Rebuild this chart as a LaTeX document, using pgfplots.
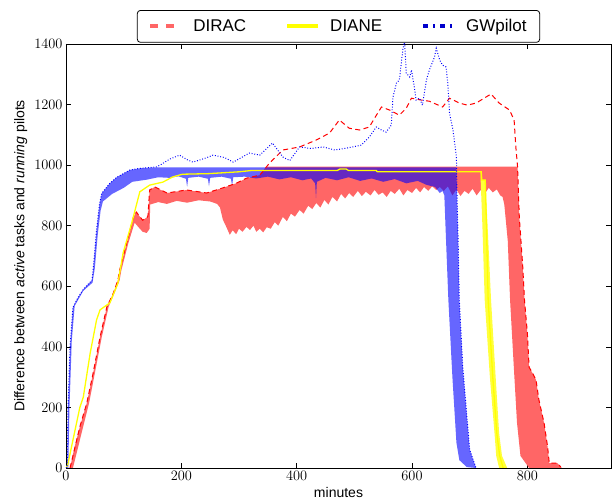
\documentclass[border=0pt]{standalone}
\usepackage{pgfplots}
\pgfplotsset{compat=1.18}
\usepgfplotslibrary{fillbetween}
\usepackage{fontspec}
\newfontfamily\arial{Liberation Sans}
\definecolor{rfill}{RGB}{255,102,102}
\definecolor{yfill}{RGB}{255,255,60}
\definecolor{yline}{RGB}{255,255,0}
\begin{document}
\begin{tikzpicture}
\begin{axis}[
 scale only axis, width=545pt, height=424pt,
 xmin=0, xmax=945, ymin=0, ymax=1400,
 xtick={0,200,400,600,800}, ytick={0,200,...,1400},
 /pgf/number format/1000 sep={},
 tick align=inside, major tick length=5pt,
 tick style={black, line width=0.5pt},
 ticklabel style={font=\fontsize{14}{16}\selectfont},
 xlabel={\arial\fontsize{14}{16}\selectfont minutes},
 ylabel={\arial\fontsize{14}{16}\selectfont Difference between \textit{active} tasks and \textit{running} pilots},
 axis line style={line width=0.8pt},
 legend columns=3,
 legend style={at={(0.5,1.08)}, anchor=north, draw=black, rounded corners=3pt, line width=0.8pt,
   fill=white,
   font=\arial\fontsize{17}{20}\selectfont,
   /tikz/every odd column/.append style={column sep=8pt},
   /tikz/every even column/.append style={column sep=37pt}, inner ysep=7pt, inner xsep=11pt},
 legend image code/.code={\draw[#1] (0pt,0pt) -- (31pt,0pt);},
]
\addlegendimage{rfill, line width=4pt, dash pattern=on 8pt off 8pt}
\addlegendentry{DIRAC}
\addlegendimage{yline, line width=4pt}
\addlegendentry{DIANE}
\addlegendimage{blue!80!black, line width=4pt, dash pattern=on 5pt off 5pt on 2pt off 5pt}
\addlegendentry{GWpilot}

% DIRAC fill
\addplot[name path=rU, draw=none, forget plot] coordinates {
(7,0)(15,70)(24,136)(36,214)(47,313)(59,432)(71,533)(82,577)(90,620)(93,653)(105,742)(117,829)(122,845)(128,830)(133,818)(142,830)(145,918)(154,928)(175,908)(209,918)(244,908)(272,925)(295,940)(313,957)(336,967)(345,990)(350,995)(783,995)(786,829)(792,664)(795,555)(800,445)(803,333)(809,313)(815,291)(820,225)(829,148)(835,71)(838,16)(852,16)(858,3)(860,0)};
\addplot[name path=rL, draw=none, forget plot] coordinates {
(12,0)(27,115)(40,214)(50,313)(62,432)(74,533)(84,577)(93,620)(96,653)(108,742)(119,810)(128,790)(133,780)(140,776)(145,790)(146,870)(160,878)(175,872)(192,882)(210,876)(230,884)(250,880)(262,872)(267,860)(272,820)(278,796)(284,770)(289,785)(295,772)(300,790)(306,780)(313,796)(319,786)(325,800)(330,780)(336,790)(342,778)(348,795)(355,790)(362,812)(368,800)(376,829)(383,815)(390,840)(397,830)(405,852)(412,840)(420,866)(427,855)(434,875)(441,860)(448,885)(455,870)(462,895)(470,880)(477,905)(484,890)(491,908)(498,895)(506,915)(513,898)(520,912)(528,900)(535,918)(542,902)(549,910)(556,895)(563,915)(570,905)(578,922)(585,900)(592,918)(600,908)(607,925)(614,910)(621,928)(628,915)(635,930)(642,918)(648,928)(655,915)(662,930)(670,900)(677,920)(684,898)(691,915)(698,905)(705,922)(712,900)(719,918)(726,905)(733,925)(740,910)(747,920)(753,900)(757,895)(760,870)(766,750)(770,555)(776,350)(782,150)(788,40)(803,0)};
\addplot[rfill, draw=none, forget plot] fill between[of=rU and rL];

% GWpilot fill
\addplot[name path=bU, draw=none, forget plot] coordinates {
(0,0)(2,3)(3.5,200)(7,400)(12,530)(20,560)(30,590)(45,620)(47,653)(53,786)(58,870)(62,907)(76,940)(88,960)(111,984)(130,990)(157,993)(677,993)(678,900)(680,750)(682,555)(688,333)(700,60)(711,0)};
\addplot[name path=bL, draw=none, forget plot] coordinates {
(4,0)(6,200)(10,420)(15,535)(30,585)(46,612)(50,660)(55,770)(60,850)(64,880)(80,905)(100,925)(115,945)(140,952)(160,960)(180,958)(195,963)(208,955)(210,928)(212,958)(230,962)(246,955)(248,930)(250,958)(270,962)(286,955)(288,932)(290,960)(310,962)(330,956)(350,962)(370,953)(390,960)(410,950)(425,956)(432,940)(433.5,891)(435,945)(450,958)(470,950)(490,960)(510,948)(530,956)(550,945)(570,954)(590,940)(610,948)(625,935)(640,928)(648,908)(653,915)(656,900)(659,750)(663,555)(670,300)(677,83)(682,26)(695,3)(711,0)};
\addplot[blue, fill opacity=0.6, draw=none, forget plot] fill between[of=bU and bL];

% DIANE fill
\addplot[fill=yfill, draw=none, forget plot] coordinates {
(719,978)(721,951)(727,951)(731,800)(737,555)(745,300)(751,115)(756,40)(765,0)(751,0)(746,40)(743,115)(735,300)(726,555)(722,800)(719,951)} --cycle;

% DIRAC line
\addplot[red, line width=1pt, dash pattern=on 5pt off 3.5pt, forget plot] coordinates {
(7,0)(24,136)(36,214)(47,313)(59,432)(71,533)(82,577)(90,620)(93,653)(105,742)(117,829)(122,845)(133,818)(142,830)(145,918)(154,928)(175,908)(209,918)(244,908)(272,925)(295,940)(313,957)(336,967)(353,1007)(376,1050)(405,1060)(434,1083)(457,1106)(474,1149)(491,1122)(509,1116)(526,1126)(535,1155)(547,1192)(561,1182)(578,1165)(590,1188)(599,1221)(616,1215)(630,1211)(653,1192)(665,1221)(682,1205)(696,1198)(711,1205)(725,1221)(737,1235)(751,1205)(769,1182)(777,1149)(780,1060)(783,994)(786,829)(792,664)(795,555)(800,445)(803,333)(809,313)(815,291)(820,225)(829,148)(835,71)(838,16)(852,16)(858,3)};

% DIANE line
\addplot[yline, line width=1.3pt, forget plot] coordinates {
(0,0)(3,10)(12,92)(24,200)(30,234)(42,380)(53,489)(59,522)(67,533)(76,545)(90,610)(99,710)(114,809)(128,912)(145,934)(168,944)(185,961)(202,970)(248,972)(300,978)(320,982)(470,982)(475,987)(486,987)(490,982)(538,982)(540,978)(720,978)(721,951)(727,951)(729,800)(732,555)(740,300)(747,115)(752,40)(758,0)};

% GWpilot line
\addplot[blue, line width=1pt, dash pattern=on 0.9pt off 1.8pt, forget plot] coordinates {
(0,0)(2,3)(3.5,200)(7,400)(12,530)(20,560)(30,590)(45,620)(47,653)(53,786)(58,870)(62,907)(76,940)(88,960)(111,984)(130,990)(157,994)(163,1000)(180,1020)(197,1033)(210,1018)(220,1010)(240,1022)(255,1033)(275,1025)(290,1010)(306,1027)(318,1040)(336,1033)(358,1073)(376,1027)(388,1015)(405,1060)(425,1055)(446,1060)(466,1050)(486,1056)(512,1066)(526,1093)(538,1126)(547,1116)(555,1109)(564,1132)(567,1225)(573,1271)(578,1281)(584,1380)(587,1410)(590,1304)(596,1291)(599,1314)(604,1258)(607,1215)(613,1221)(618,1198)(625,1281)(630,1314)(639,1357)(642,1386)(648,1347)(653,1330)(659,1324)(662,1271)(665,1172)(671,1116)(677,1027)(678,900)(680,750)(682,555)(688,333)(700,60)(711,0)};

\coordinate (ll) at (rel axis cs:0,0);
\coordinate (ur) at (rel axis cs:1,1);
\end{axis}
\pgfresetboundingbox
\useasboundingbox ([shift={(-66pt,-36pt)}]ll) rectangle ([shift={(1pt,44pt)}]ur);
\end{tikzpicture}
\end{document}
